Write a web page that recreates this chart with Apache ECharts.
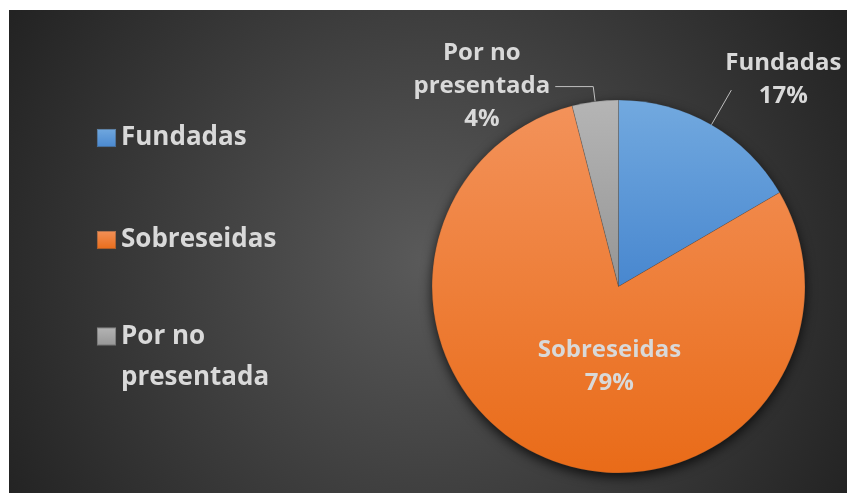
<!DOCTYPE html>
<html>
<head>
<meta charset="utf-8">
<script src="https://cdn.jsdelivr.net/npm/echarts@6/dist/echarts.min.js"></script>
<style>
  html, body { margin: 0; padding: 0; background: #ffffff; }
  #main { position: absolute; left: 9px; top: 10px; width: 838px; height: 483px; }
</style>
</head>
<body>
<div id="main"></div>
<script>
// datos del grafico
const categories = ['Fundadas', 'Sobreseidas', 'Por no presentada'];
const values = [16.6, 79.4, 4.0];
const topColors = ['#72a9df', '#f3925a', '#b5b5b5'];
const bottomColors = ['#4887cf', '#e96b18', '#959595'];

const textColor = '#d9d9d9';
const font = 'Open Sans';

function grad(i) {
    return new echarts.graphic.LinearGradient(0, 0, 0, 1, [
        { offset: 0, color: topColors[i] },
        { offset: 1, color: bottomColors[i] }
    ]);
}

function splitName(name) {
    return name.replace(' presentada', '\npresentada');
}

const pieData = categories.map(function (name, i) {
    let item = { name: name, value: values[i], itemStyle: { color: grad(i) } };
    if (i === 0) {
        item.labelLine = { length: 40, length2: 0 };
        item.label = { distanceToLabelLine: 0 };
    } else if (i === 1) {
        item.label = { position: 'inside' };
    } else {
        item.labelLine = { length: 15, length2: 38 };
    }
    return item;
});

// pequenos ajustes de las etiquetas
const labelNudge = [{ dx: -6, dy: -10 }, { dx: 28, dy: -9 }, null];

function legendAt(name, top, extra) {
    let lg = {
        data: [name],
        orient: 'vertical',
        left: 87,
        top: top,
        padding: 0,
        itemGap: 0,
        itemWidth: 19,
        itemHeight: 18,
        icon: 'rect',
        selectedMode: false,
        textStyle: {
            color: textColor,
            fontSize: 26,
            fontWeight: 'bold',
            fontFamily: font,
            lineHeight: 18
        }
    };
    return Object.assign(lg, extra || {});
}

const chart = echarts.init(document.getElementById('main'));

chart.setOption({
    animation: false,
    backgroundColor: {
        type: 'radial', x: 0.5, y: 0.52, r: 1,
        colorStops: [
            { offset: 0, color: '#5a5a5a' },
            { offset: 1, color: '#232323' }
        ]
    },
    legend: [
        legendAt(categories[0], 115),
        legendAt(categories[1], 217),
        legendAt(categories[2], 265, {
            // linea vacia arriba para que "Por no" quede a la altura del cuadro
            formatter: function (name) { return ' \n' + splitName(name); },
            textStyle: {
                color: textColor,
                fontSize: 26,
                fontWeight: 'bold',
                fontFamily: font,
                lineHeight: 41
            }
        })
    ],
    series: [
        {
            type: 'pie',
            z: 3,
            center: [609.5, 276.5],
            radius: 186.5,
            startAngle: 90,
            clockwise: true,
            percentPrecision: 0,
            avoidLabelOverlap: false,
            emphasis: { scale: false },
            itemStyle: { borderColor: 'rgba(60,60,60,0.35)', borderWidth: 0.6 },
            label: {
                show: true,
                position: 'outside',
                formatter: function (p) {
                    let lines = splitName(p.name).split('\n').concat([p.percent + '%']);
                    return lines.map(function (s) { return '{t|' + s + '}'; }).join('\n');
                },
                rich: {
                    t: {
                        color: textColor,
                        fontSize: 24,
                        fontWeight: 'bold',
                        fontFamily: font,
                        lineHeight: 33,
                        align: 'center'
                    }
                }
            },
            labelLine: {
                show: true,
                lineStyle: { color: '#bfbfbf', width: 1 }
            },
            labelLayout: function (params) {
                return labelNudge[params.dataIndex] || {};
            },
            data: pieData
        },
        {
            // sombra del pastel
            type: 'pie',
            z: 2,
            silent: true,
            center: [609.5, 276.5],
            radius: 186.5,
            label: { show: false },
            labelLine: { show: false },
            itemStyle: {
                color: '#1a1a1a',
                shadowBlur: 12,
                shadowOffsetY: 4,
                shadowColor: 'rgba(0,0,0,0.75)'
            },
            data: [{ name: '', value: 1 }]
        }
    ]
});
</script>
</body>
</html>
